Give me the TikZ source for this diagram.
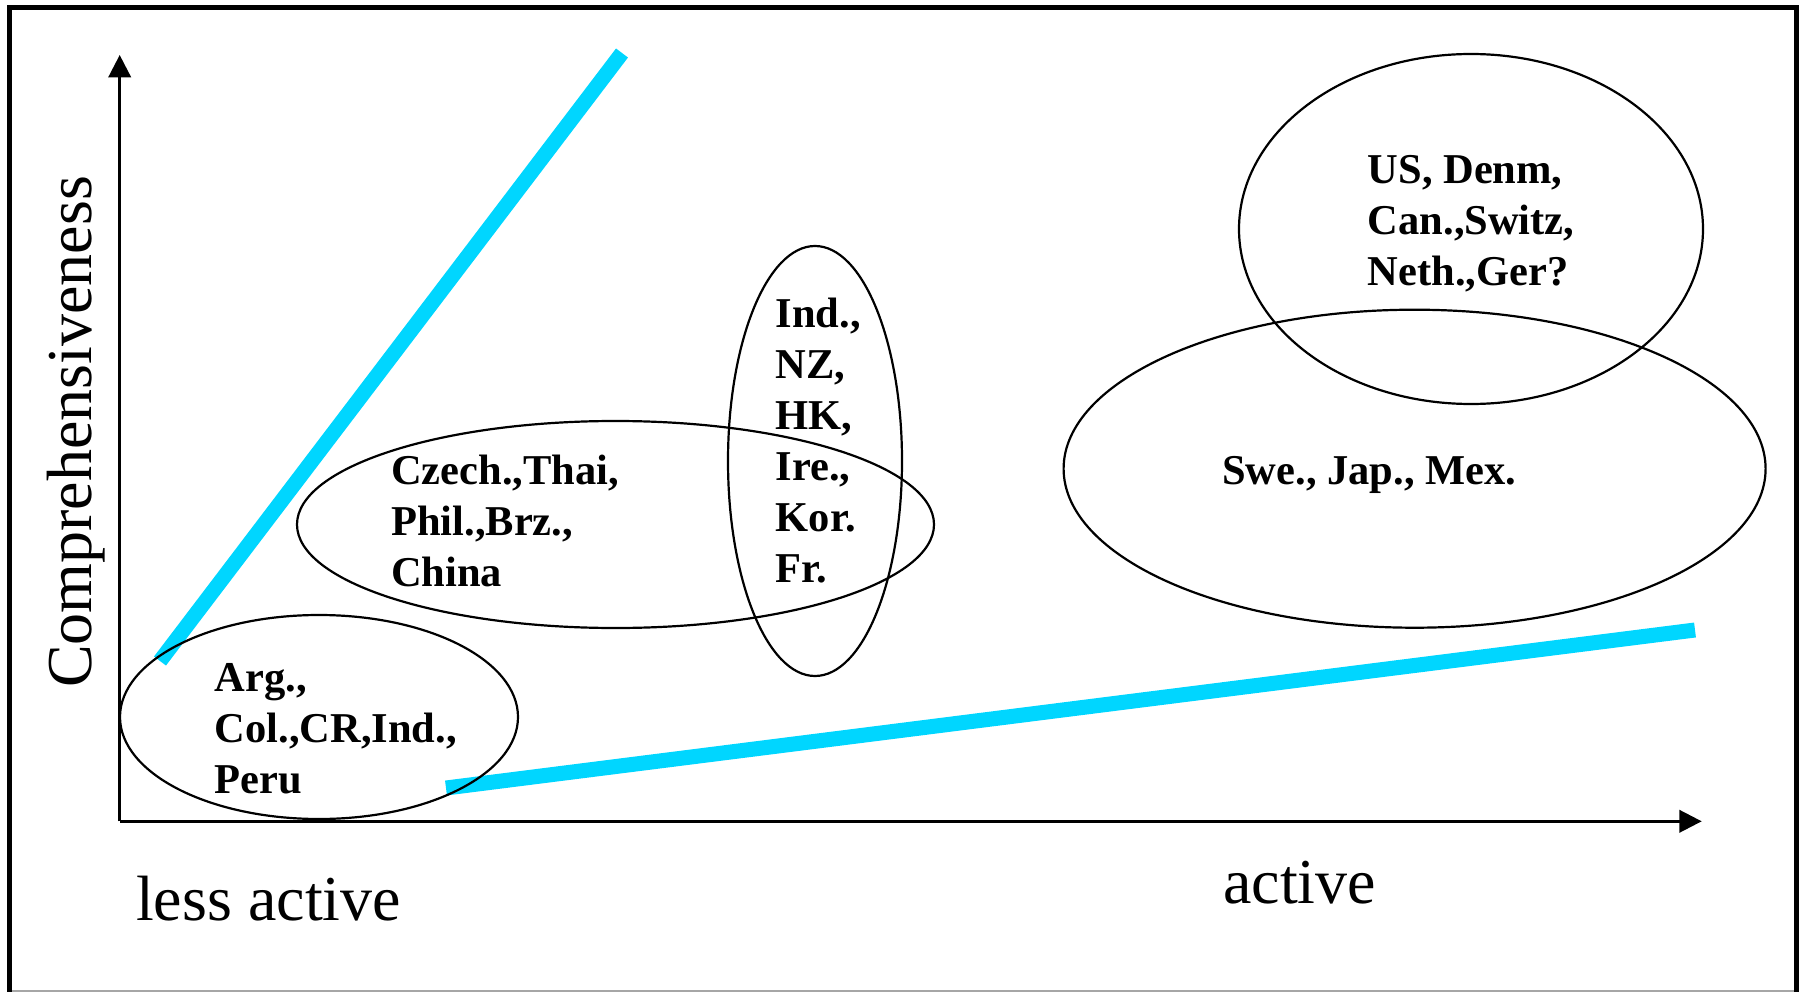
\documentclass[tikz,border=0pt]{standalone}
\usepackage{fontspec}
\setmainfont{Liberation Serif}
\usetikzlibrary{arrows.meta,shapes.geometric}
\definecolor{band}{RGB}{0,214,255}
\begin{document}
\begin{tikzpicture}[x=1pt,y=-1pt,
  group/.style={ellipse, draw=black, line width=2.2pt, inner sep=0pt},
  % multi-line labels: the base anchor sits on the last line
  members/.style={inner sep=0pt, align=left, anchor=base west,
    font=\fontsize{42.5}{51}\selectfont\bfseries},
  axislabel/.style={inner sep=0pt, font=\fontsize{64}{70}\selectfont},
  axisline/.style={line width=2.7pt, -{Triangle[length=22.4pt,width=22.4pt]}},
  trend/.style={draw=band, line width=15pt}]

\useasboundingbox (0,0) rectangle (1799,992);

% outer frame
\draw[line width=5pt, line join=miter] (9.5,992) -- (9.5,7.5) -- (1796.5,7.5) -- (1796.5,992);
\draw[black!35, line width=1.5pt] (12,991) -- (1794,991);

% axes
\coordinate (O) at (119.7,821.3);
\coordinate (ytip) at (119.7,55);
\coordinate (xtip) at (1701.7,821.3);
\draw[axisline] (O) -- (ytip);
\draw[axisline] (O) -- (xtip);

% boundary bands
\coordinate (t1a) at (160,661);
\coordinate (t1b) at (622,53);
\coordinate (t2a) at (446,788);
\coordinate (t2b) at (1695,630);
\draw[trend] (t1a) -- (t1b);
\draw[trend] (t2a) -- (t2b);

% country groups
\node[group, minimum width=398pt, minimum height=204pt] (gA) at (319,717) {};
\node[group, minimum width=637pt, minimum height=207pt] (gB) at (615.5,524.5) {};
\node[group, minimum width=174pt, minimum height=430pt] (gC) at (815,461) {};
\node[group, minimum width=464pt, minimum height=350pt] (gD) at (1471,229) {};
\node[group, minimum width=702pt, minimum height=318pt] (gE) at (1414.6,468.7) {};

\node[members] (lA) at (214.5,793) {Arg.,\\Col.,CR,Ind.,\\Peru};
\node[members] (lB) at (391,586) {Czech.,Thai,\\Phil.,Brz.,\\China};
\node[members] (lC) at (775.5,582) {Ind.,\\NZ,\\HK,\\Ire.,\\Kor.\\Fr.};
\node[members] (lD) at (1367.6,286) {US, Denm,\\Can.,Switz,\\Neth.,Ger?};
\node[members] (lE) at (1222,484) {Swe., Jap., Mex.};

% axis labels
\node[axislabel, anchor=base west] (xlow) at (136,920) {less active};
\node[axislabel, anchor=base west] (xhigh) at (1223,903) {active};
\node[axislabel, anchor=base, rotate=90] (ylab) at (91,432) {Comprehensiveness};
\end{tikzpicture}
\end{document}
